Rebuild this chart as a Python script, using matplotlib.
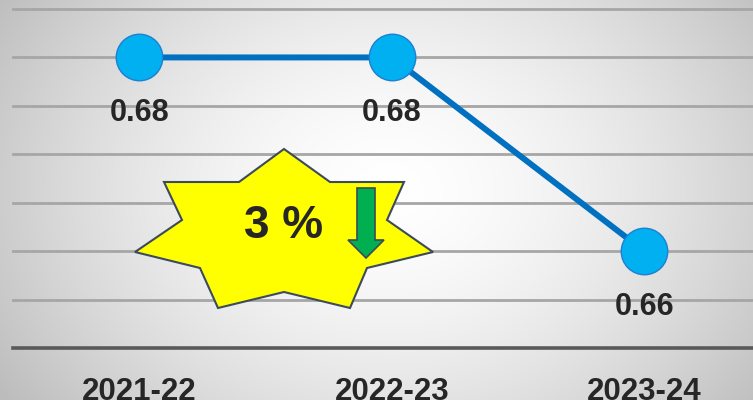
import numpy as np
import matplotlib
matplotlib.use("Agg")
import matplotlib.pyplot as plt
from matplotlib.patches import Polygon

categories = ["2021-22", "2022-23", "2023-24"]
values = [0.68, 0.68, 0.66]
value_labels = ["0.68", "0.68", "0.66"]
badge_text = "3 %"

W, H = 753, 400
fig = plt.figure(figsize=(W / 100, H / 100), dpi=100)

# background radial gradient
bg = fig.add_axes([0, 0, 1, 1], zorder=0)
yy, xx = np.mgrid[0:H, 0:W]
r = np.sqrt(((xx - 390) / 420.0) ** 2 + ((yy - 190) / 330.0) ** 2)
g = np.clip(1.0 - 0.22 * r ** 1.6, 0.74, 1.0)
img = np.dstack([g, g, g])
bg.imshow(img, extent=[0, W, H, 0], aspect="auto")
bg.set_xlim(0, W)
bg.set_ylim(H, 0)
bg.axis("off")

font = "Liberation Sans"
txt_color = "#262626"

ax = fig.add_axes([13 / W, (H - 348) / H, 3 * 252.5 / W, 339 / H], zorder=1)
ax.patch.set_alpha(0)
x = np.arange(len(categories))
ax.set_xlim(-0.5, len(categories) - 0.5)
ax.set_ylim(0.65, 0.685)
yt = np.arange(0.655, 0.6851, 0.005)
for v in yt:
    ax.axhline(v, color="#a6a6a6", lw=2.0, zorder=1, clip_on=False)
for s in ["top", "left", "right"]:
    ax.spines[s].set_visible(False)
ax.spines["bottom"].set_color("#595959")
ax.spines["bottom"].set_linewidth(2.6)
ax.set_yticks([])
ax.set_xticks(x)
ax.set_xticklabels(categories, fontsize=22.5, fontweight="bold", family=font, color=txt_color)
ax.tick_params(axis="x", length=0, pad=21)

ax.plot(x, values, color="#0070c0", lw=4.3, zorder=3, solid_capstyle="butt")
ax.plot(x, values, ls="none", marker="o", ms=33.5, mfc="#00b0f0", mec="#1f7fd0", mew=1.0, zorder=4)
for xi, v, lab in zip(x, values, value_labels):
    ax.annotate(lab, (xi, v), xytext=(0, -40), textcoords="offset points",
                ha="center", va="center", fontsize=22, fontweight="bold",
                family=font, color=txt_color, zorder=5)

# star badge (pixel coords on overlay axes)
star = [(284, 149), (330, 182), (404, 182), (387, 220), (433, 252), (367, 268),
        (350, 308), (284, 292), (218, 308), (200, 268), (135, 252), (182, 220),
        (164, 182), (239, 182)]
ov = fig.add_axes([0, 0, 1, 1], zorder=2)
ov.set_xlim(0, W)
ov.set_ylim(H, 0)
ov.axis("off")
ov.add_patch(Polygon(star, closed=True, facecolor="#ffff00", edgecolor="#3b4a5c", lw=1.5))
ov.text(284, 226, badge_text, ha="center", va="center", fontsize=33, fontweight="bold",
        family=font, color=txt_color)
arrow = [(357, 188), (375, 188), (375, 240), (384, 240), (366, 258), (348, 240), (357, 240)]
ov.add_patch(Polygon(arrow, closed=True, facecolor="#00b050", edgecolor="#3b4a5c", lw=1.2))

fig.savefig("out.png", dpi=100)
